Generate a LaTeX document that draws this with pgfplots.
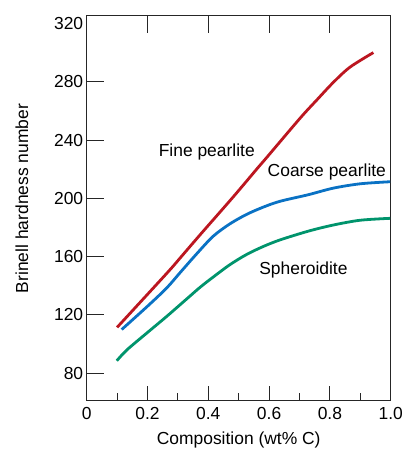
\documentclass[border=0pt]{standalone}
\usepackage{pgfplots}
\pgfplotsset{compat=1.18}
\usepackage{fontspec}
\setmainfont{Liberation Sans}
\definecolor{fineRed}{RGB}{188,22,32}
\definecolor{coarseBlue}{RGB}{10,114,196}
\definecolor{sphGreen}{RGB}{0,148,108}

\begin{document}
\begin{tikzpicture}[font=\fontsize{17.5}{20}\selectfont,
	tickline/.style={line width=1bp, black!85}]
\useasboundingbox (-86.7bp,-56.3bp) rectangle (325.3bp,400.7bp);
\begin{axis}[
	at={(0,0)}, anchor=south west,
	scale only axis,
	width=304bp, height=385bp,
	xmin=0, xmax=1.0,
	ymin=61.2, ymax=325.3,
	clip=false,
	axis line style={line width=1bp, black!85},
	major tick length=0pt,
	/pgf/number format/assume math mode=true,
	xtick={0,0.2,...,1.0},
	xticklabels={0,0.2,0.4,0.6,0.8,1.0},
	ytick={80,120,...,280,320},
	xticklabel style={yshift=-3bp},
	xlabel={Composition (wt\% C)},
	ylabel={Brinell hardness number},
	xlabel style={at={(axis description cs:0.5,-0.102)}, anchor=center},
	ylabel style={at={(axis description cs:-0.213,0.525)}, anchor=center, rotate=0},
]
\addplot[fineRed, line width=2.8bp, smooth] coordinates {
	(0.100,111.5) (0.263,148.5) (0.307,159) (0.373,175) (0.482,201)
	(0.559,220) (0.592,228) (0.702,255) (0.757,267.5) (0.811,279.5)
	(0.866,290) (0.943,300)
};
\addplot[coarseBlue, line width=2.8bp, smooth] coordinates {
	(0.115,110) (0.200,126) (0.263,138.5) (0.307,149) (0.362,162)
	(0.416,174) (0.471,182.5) (0.526,189) (0.581,194) (0.636,198)
	(0.729,202.5) (0.811,207) (0.900,210) (0.998,211.4)
};
\addplot[sphGreen, line width=2.8bp, smooth] coordinates {
	(0.099,88.6) (0.132,96) (0.200,108) (0.263,119) (0.329,131)
	(0.373,139) (0.416,146) (0.471,154.5) (0.526,161.5) (0.581,167)
	(0.636,171.5) (0.729,177.5) (0.811,181.7) (0.900,185) (0.998,186.3)
};
\node at (axis cs:0.395,232) {Fine pearlite};
\node at (axis cs:0.790,218.3) {Coarse pearlite};
\node at (axis cs:0.713,151) {Spheroidite};
\end{axis}
% tick marks on the frame (frame spans 304bp x 385bp from the origin)
\foreach \tx in {60.8,121.6,182.4,243.2} {
	\draw[tickline] (\tx bp,0bp) -- (\tx bp,15bp);
	\draw[tickline] (\tx bp,385bp) -- (\tx bp,368bp);
}
\foreach \tx in {30.4,91.2,152,212.8,273.6} {
	\draw[tickline] (\tx bp,0bp) -- (\tx bp,8bp);
}
\foreach \ty in {27.41,85.72,144.03,202.34,260.65,318.96} {
	\draw[tickline] (0bp,\ty bp) -- (17bp,\ty bp);
}
\end{tikzpicture}
\end{document}
